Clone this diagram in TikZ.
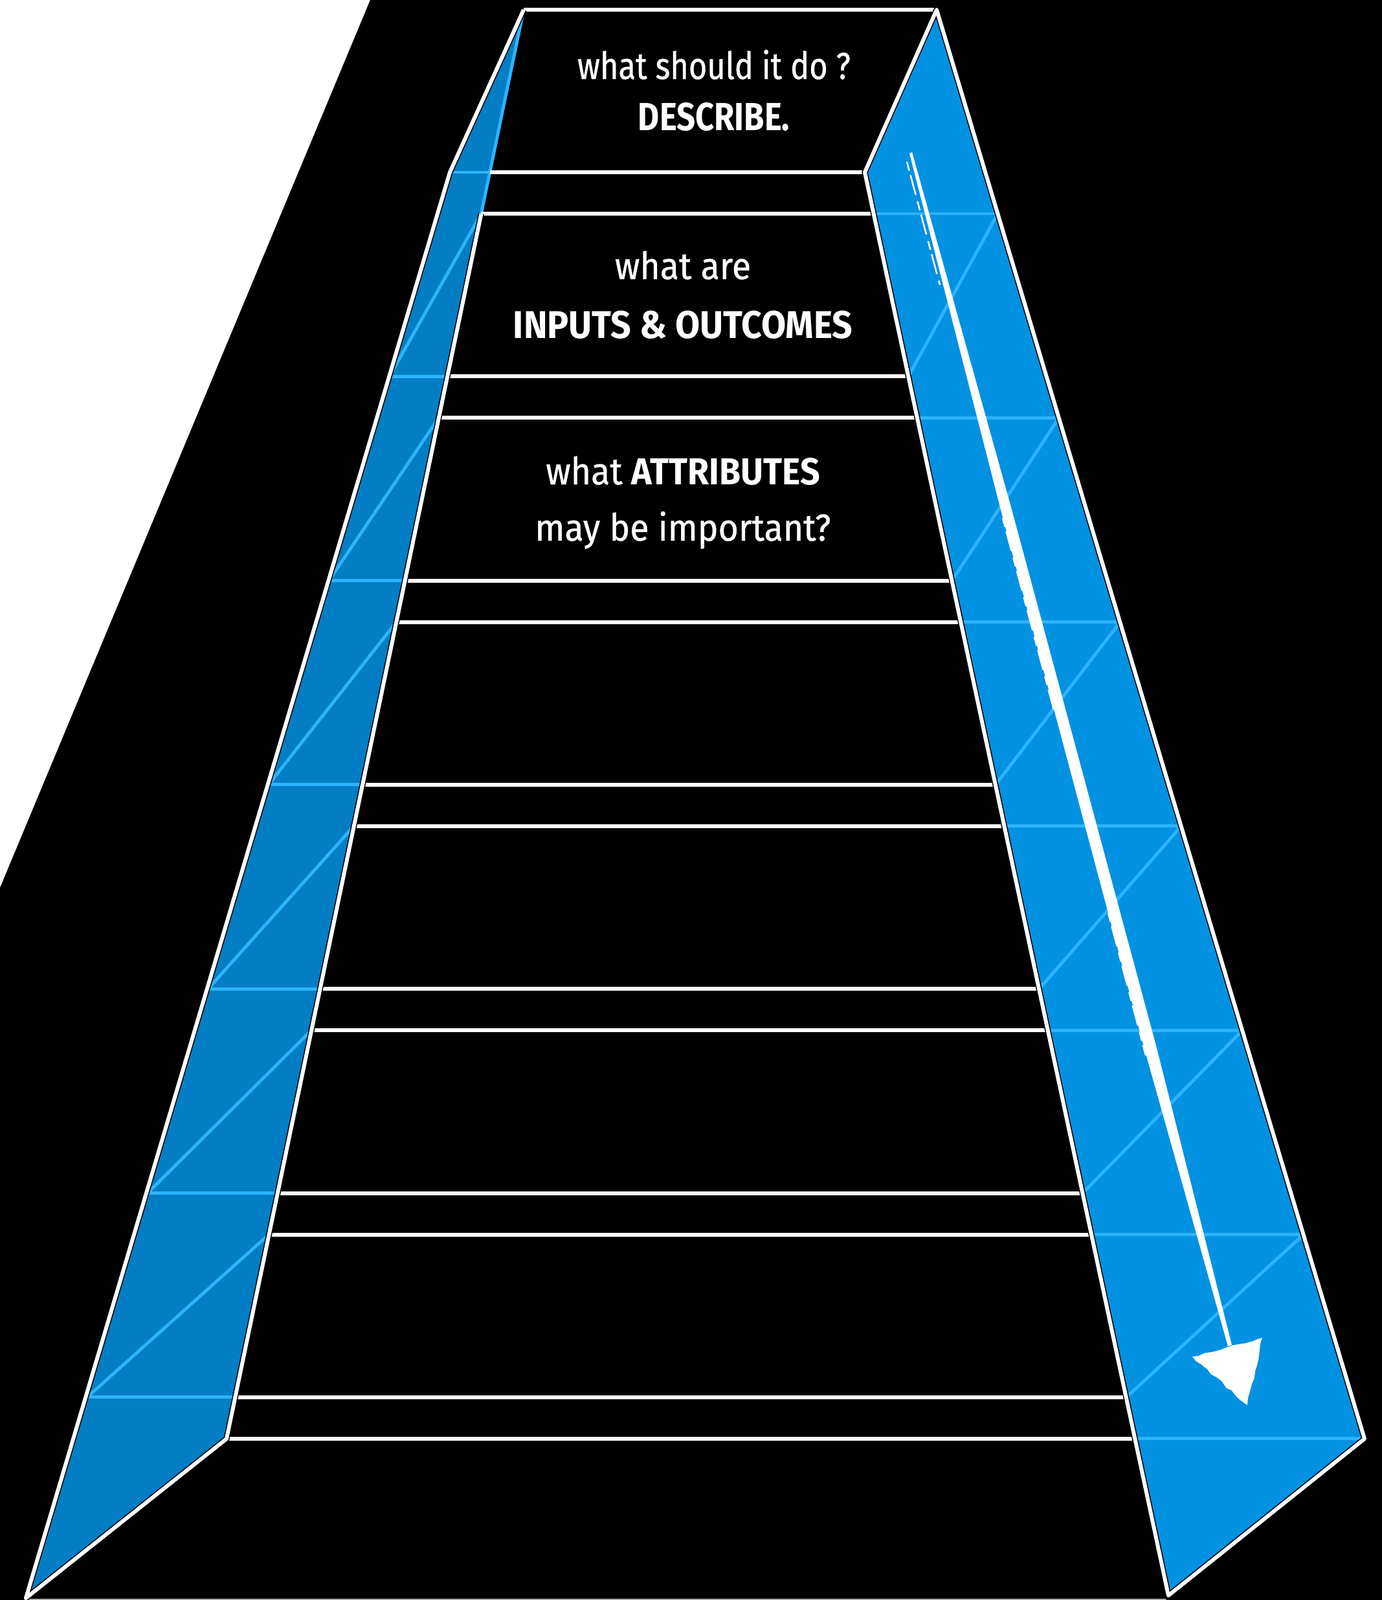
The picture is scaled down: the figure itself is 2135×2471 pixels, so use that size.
\documentclass[tikz,border=0pt]{standalone}
\usepackage{fontspec}
\setmainfont[FakeStretch=0.84, UprightFeatures={FakeBold=0.6}]{Fira Sans}
\usetikzlibrary{decorations.pathmorphing}

\definecolor{leftrail}{RGB}{3,125,196}
\definecolor{rightrail}{RGB}{3,145,226}
\definecolor{railline}{RGB}{45,180,255}

\tikzset{
  declare function={
    xlo(\h)=695-0.2962*(\h-266);
    xli(\h)=809-0.2081*(\h-15);
    xri(\h)=1336+0.2136*(\h-266);
    xro(\h)=1447+0.2996*(\h-15);
  }
}

\begin{document}
\begin{tikzpicture}[x=0.01cm, y=-0.01cm,
    rim/.style={white, line width=1.7pt, line join=round},
    railrim/.style={rim, preaction={draw=black, line width=2.6pt}},
    seam/.style={railline, line width=1.4pt},
    chalk/.style={white, decorate, decoration={random steps, segment length=3pt, amplitude=0.6pt}},
    scratch/.style={white, line width=0.7pt, dash pattern=on 4pt off 2pt on 9pt off 3pt},
    ask/.style={text=white, anchor=base, font=\fontsize{16.5}{20}\selectfont},
    askbold/.style={ask, font=\fontsize{17.2}{20}\selectfont\bfseries},
    wide/.style={xscale=1.1, transform shape}]

    % background
    \fill[white] (0,0) rectangle (2135,2471);
    \fill[black] (572,0) -- (2135,0) -- (2135,2471) -- (0,2471) -- (0,1371) -- cycle;
    \useasboundingbox (0,0) rectangle (2135,2471);

    % rails
    \coordinate (LT) at (809,15);
    \coordinate (LK) at (695,266);
    \coordinate (LB) at (40,2468);
    \coordinate (LI) at (350,2222);
    \coordinate (RT) at (1447,15);
    \coordinate (RK) at (1336,266);
    \coordinate (RB) at (1805,2464);
    \coordinate (RO) at (2108,2222);
    \coordinate (LU) at ({xli(330)},330);

    \fill[leftrail] (LT) -- (LK) -- (LB) -- (LI) -- cycle;
    \fill[rightrail] (RT) -- (RO) -- (RB) -- (RK) -- cycle;

    % seams on the rails
    \foreach \k in {0,...,6}{
        \pgfmathsetmacro{\lo}{266+315.3*\k}
        \pgfmathsetmacro{\up}{330+315.3*\k}
        \draw[seam] ({xlo(\lo)},\lo) -- ({xli(\lo)},\lo);
        \draw[seam] ({xri(\up)},\up) -- ({xro(\up)},\up);
    }
    \foreach \k in {1,...,6}{
        \pgfmathsetmacro{\lo}{266+315.3*\k}
        \pgfmathsetmacro{\up}{14.7+315.3*\k}
        \draw[seam] ({xli(\up)},\up) -- ({xlo(\lo)},\lo);
    }
    \foreach \k in {0,...,5}{
        \pgfmathsetmacro{\lo}{581.3+315.3*\k}
        \pgfmathsetmacro{\up}{330+315.3*\k}
        \draw[seam] ({xro(\up)},\up) -- ({xri(\lo)},\lo);
    }
    \draw[seam] (LT) -- (LU);

    % rungs
    \foreach \k in {0,...,6}{
        \pgfmathsetmacro{\lo}{266+315.3*\k}
        \pgfmathsetmacro{\up}{330+315.3*\k}
        \draw[rim] ({xli(\lo)},\lo) -- ({xri(\lo)},\lo);
        \draw[rim] ({xli(\up)},\up) -- ({xri(\up)},\up);
    }
    \draw[rim] (LT) -- (RT);
    \draw[gray!70, line width=0.6pt] (LB |- 0,2470) -- (RB |- 0,2470);

    % rail outlines
    \draw[railrim] (LU) -- (LI) -- (LB) -- (LK) -- (LT);
    \draw[railrim] (RK) -- (RT) -- (RO) -- (RB) -- cycle;

    % chalk arrow
    \coordinate (chalktop) at (1407,236);
    \coordinate (chalktip) at (1927,2170);
    \fill[white] (1405,237) -- (1547,791) -- (1768,1620) -- (1897,2079)
        -- (1903,2077) -- (1786,1615) -- (1563,787) -- (1409,235) -- cycle;
    \draw[scratch] (1401,250) -- (1452,440);
    \draw[scratch] (1549,800) -- (1629,1100);
    \draw[scratch] (1712,1410) -- (1770,1630);
    \fill[chalk] (1842,2095) -- (1950,2066) -- (chalktip) -- cycle;

    % questions
    \node[ask] (doq) at (1103,122) {what should it do ?};
    \node[askbold] (describe) at (1103,201) {DESCRIBE.};
    \node[ask, wide] (ioq) at (1055,431) {what are};
    \node[askbold, wide, font=\fontsize{17}{20}\selectfont\bfseries] (io) at (1055,522) {INPUTS \& OUTCOMES};
    \node[ask, wide] (attrq) at (1055,748) {what \textbf{ATTRIBUTES}};
    \node[ask, wide] (attr) at (1055,835) {may be important?};
\end{tikzpicture}
\end{document}
